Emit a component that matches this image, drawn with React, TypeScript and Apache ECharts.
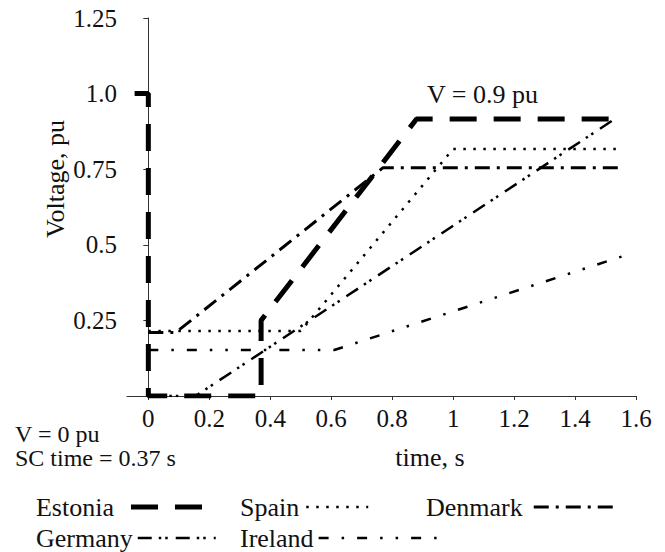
import React, { useEffect, useRef } from 'react';
import * as echarts from 'echarts';

// time (s) / voltage (pu) profiles
const estoniaTime = [-0.045, 0, 0, 0.37, 0.37, 0.88, 1.55];
const estoniaVoltage = [1.0, 1.0, 0, 0, 0.25, 0.916, 0.916];

const spainTime = [0, 0.5, 1.0, 1.55];
const spainVoltage = [0.215, 0.215, 0.817, 0.817];

const denmarkTime = [0, 0.09, 0.77, 1.55];
const denmarkVoltage = [0.21, 0.21, 0.755, 0.755];

const germanyTime = [0, 0.155, 1.53];
const germanyVoltage = [0, 0, 0.916];

const irelandTime = [0, 0.61, 1.58];
const irelandVoltage = [0.152, 0.152, 0.47];

const xTickValues = [0, 0.2, 0.4, 0.6, 0.8, 1, 1.2, 1.4, 1.6];
const xTickLabels = ['0', '0.2', '0.4', '0.6', '0.8', '1', '1.2', '1.4', '1.6'];
const yTickValues = [0, 0.25, 0.5, 0.75, 1, 1.25];
const yTickLabels = ['', '0.25', '0.5', '0.75', '1.0', '1.25'];

const FONT = 'Liberation Serif, serif';

const pairs = (t: number[], v: number[]) => t.map((x, i) => [x, v[i]]);

export default function App() {
  const ref = useRef<HTMLDivElement>(null);
  useEffect(() => {
    const chart = echarts.init(ref.current!, null, { renderer: 'svg' });
    const mkLine = (name: string, t: number[], v: number[], width: number, dash: number[]) => ({
      name,
      type: 'line',
      data: pairs(t, v),
      symbol: 'none',
      showSymbol: false,
      lineStyle: { color: '#000', width, type: dash },
      itemStyle: { color: 'rgba(0,0,0,0)', borderWidth: 0 },
      z: 3,
    });
    const mkLegend = (name: string, left: number, top: number, itemWidth: number, padRight: number) => ({
      data: [name],
      left,
      top,
      padding: 0,
      align: 'right',
      orient: 'horizontal',
      itemWidth,
      itemHeight: 14,
      selectedMode: false,
      textStyle: { fontFamily: FONT, fontSize: 26, color: '#111', padding: [0, padRight, 0, 0] },
      itemStyle: { color: 'rgba(0,0,0,0)', borderWidth: 0, opacity: 0 },
      lineStyle: { width: 'inherit', type: 'inherit', color: '#000' },
    });
    const mkText = (text: string, x: number, y: number, align: string, rotation = 0, size = 26) => ({
      type: 'text',
      x,
      y,
      rotation,
      style: {
        text,
        fill: '#111',
        fontSize: size,
        fontFamily: FONT,
        lineHeight: size,
        align,
        textAlign: align,
        verticalAlign: 'middle',
        textVerticalAlign: 'middle',
      },
    });
    chart.setOption({
      animation: false,
      backgroundColor: '#fff',
      textStyle: { fontFamily: FONT },
      grid: { left: 127, right: 29, top: 18, bottom: 156, containLabel: false },
      xAxis: {
        type: 'value',
        min: -0.07,
        max: 1.6,
        axisLine: { show: true, onZero: true, lineStyle: { color: '#333', width: 1 } },
        axisTick: { show: true, inside: false, length: 4, customValues: xTickValues, lineStyle: { color: '#333' } },
        axisLabel: {
          show: true,
          customValues: xTickValues,
          margin: 10,
          fontFamily: FONT,
          fontSize: 25,
          color: '#111',
          formatter: (v: number) => {
            const i = xTickValues.findIndex((x) => Math.abs(x - v) < 1e-6);
            return i >= 0 ? xTickLabels[i] : '';
          },
        },
        splitLine: { show: false },
      },
      yAxis: {
        type: 'value',
        min: 0,
        max: 1.25,
        interval: 0.25,
        axisLine: { show: true, onZero: true, lineStyle: { color: '#333', width: 1 } },
        axisTick: { show: true, inside: false, length: 5, lineStyle: { color: '#333' } },
        axisLabel: {
          show: true,
          margin: 10,
          fontFamily: FONT,
          fontSize: 25,
          color: '#111',
          formatter: (v: number) => {
            const i = yTickValues.findIndex((x) => Math.abs(x - v) < 1e-6);
            return i >= 0 ? yTickLabels[i] : '';
          },
        },
        splitLine: { show: false },
      },
      legend: [
        mkLegend('Estonia', 36, 494, 71, 12),
        mkLegend('Spain', 240, 494, 62, 2),
        mkLegend('Denmark', 426, 494, 80, 6),
        mkLegend('Germany', 36, 525, 78, 0),
        mkLegend('Ireland', 240, 525, 120, 0),
      ],
      graphic: [
        mkText('V = 0.9 pu', 427, 94, 'left'),
        mkText('Voltage, pu', 55, 179, 'center', Math.PI / 2),
        mkText('V = 0 pu', 15, 434, 'left', 0, 24),
        mkText('SC time = 0.37 s', 15, 458, 'left', 0, 24),
        mkText('time, s', 430, 457, 'center'),
      ],
      series: [
        mkLine('Estonia', estoniaTime, estoniaVoltage, 5, [27, 17]),
        mkLine('Spain', spainTime, spainVoltage, 2.5, [2.5, 7.5]),
        mkLine('Denmark', denmarkTime, denmarkVoltage, 3, [15, 7, 3, 7]),
        mkLine('Germany', germanyTime, germanyVoltage, 2.5, [14, 7, 2.5, 4, 2.5, 8]),
        mkLine('Ireland', irelandTime, irelandVoltage, 2.5, [10, 13, 2.5, 13, 10, 13, 2.5, 13, 2.5, 13]),
      ],
    });
    return () => chart.dispose();
  }, []);
  return (
    <div
      ref={ref}
      style={{ position: 'fixed', left: 0, top: 0, width: 665, height: 552, background: '#fff' }}
    />
  );
}
